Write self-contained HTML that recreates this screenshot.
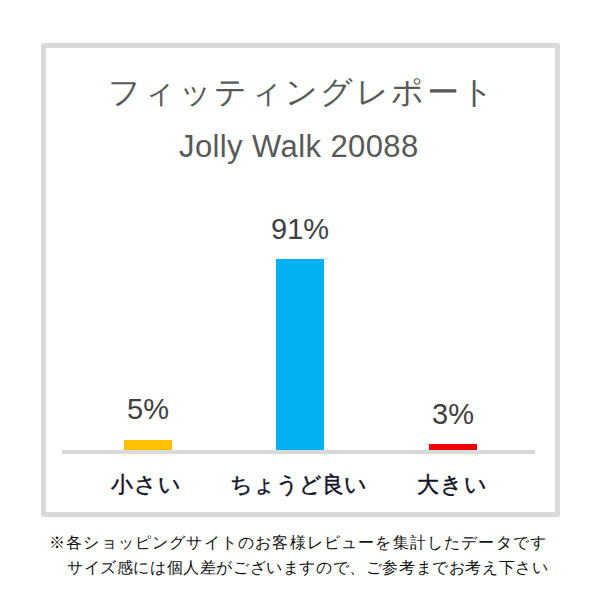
<!DOCTYPE html>
<html lang="ja">
<head>
<meta charset="utf-8">
<style>
html,body{margin:0;padding:0;background:#fff;}
body{width:600px;height:600px;position:relative;overflow:hidden;font-family:"Liberation Sans",sans-serif;}
.abs{position:absolute;white-space:nowrap;line-height:1;}
#frame{position:absolute;left:41px;top:43px;width:509px;height:464px;border:5px solid #d9d9d9;border-radius:2px;}
#title{left:108px;top:76px;font-size:32px;color:#595959;letter-spacing:2.4px;}
#sub{left:179px;top:131px;font-size:31px;color:#595959;letter-spacing:0.4px;}
.pct{font-size:29px;color:#404040;}
.bar{position:absolute;}
#axis{position:absolute;left:62px;top:450px;width:473px;height:4px;background:#d9d9d9;}
.cat{font-size:22px;color:#121228;-webkit-text-stroke:0.45px #121228;}
.note{font-size:16px;color:#111;}
</style>
</head>
<body>
<div id="frame"></div>
<div class="abs" id="title">フィッティングレポート</div>
<div class="abs" id="sub">Jolly Walk 20088</div>

<div class="abs pct" style="left:271px;top:215px;">91%</div>
<div class="bar" style="left:276px;top:259px;width:48px;height:191px;background:#00b0f0;"></div>

<div class="abs pct" style="left:127px;top:395px;">5%</div>
<div class="bar" style="left:124px;top:440px;width:48px;height:10px;background:#ffc000;"></div>

<div class="abs pct" style="left:432px;top:400px;">3%</div>
<div class="bar" style="left:429px;top:444px;width:48px;height:6px;background:#ee0303;"></div>

<div id="axis"></div>

<div class="abs cat" style="left:111px;top:473.5px;letter-spacing:0.8px;">小さい</div>
<div class="abs cat" style="left:230px;top:473.5px;">ちょうど良い</div>
<div class="abs cat" style="left:417px;top:473.5px;letter-spacing:1px;">大きい</div>

<div class="abs note" style="left:49px;top:535px;letter-spacing:1.18px;">※各ショッピングサイトのお客様レビューを集計したデータです</div>
<div class="abs note" style="left:67px;top:560px;letter-spacing:0.6px;">サイズ感には個人差がございますので、ご参考までお考え下さい</div>
</body>
</html>
